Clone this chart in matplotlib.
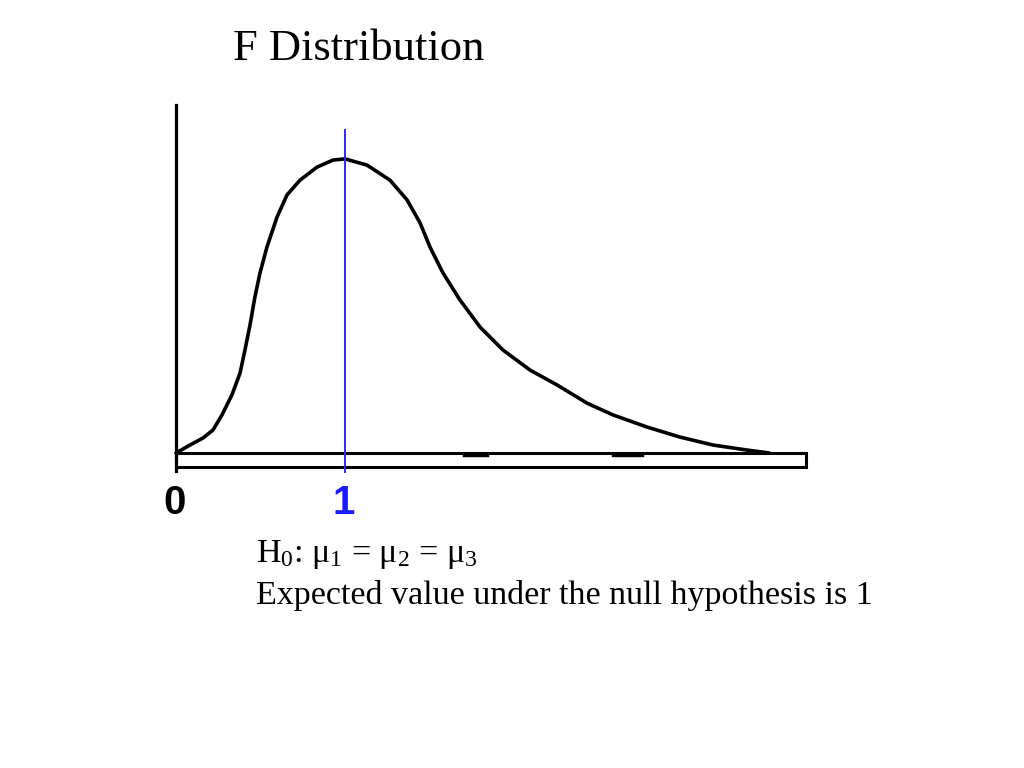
import numpy as np
import matplotlib
matplotlib.use("Agg")
import matplotlib.pyplot as plt
from matplotlib.patches import Rectangle

plt.rcParams['mathtext.fontset'] = 'custom'
plt.rcParams['mathtext.rm'] = 'Liberation Serif'
plt.rcParams['mathtext.it'] = 'Liberation Serif:italic'

# hand-drawn F density (x in F units, height relative to peak)
curve_x = [0.0, 0.083, 0.160, 0.219, 0.272, 0.331, 0.379, 0.408, 0.438, 0.467,
           0.497, 0.538, 0.598, 0.657, 0.734, 0.834, 0.929, 1.0, 1.130, 1.266,
           1.367, 1.444, 1.503, 1.580, 1.680, 1.799, 1.935, 2.095, 2.254, 2.432,
           2.586, 2.787, 2.982, 3.178, 3.379, 3.51]
curve_y = [0.0, 0.027, 0.051, 0.078, 0.129, 0.197, 0.271, 0.349, 0.434, 0.529,
           0.610, 0.698, 0.800, 0.875, 0.925, 0.969, 0.993, 0.997, 0.976, 0.925,
           0.858, 0.780, 0.698, 0.610, 0.519, 0.427, 0.349, 0.281, 0.231, 0.169,
           0.129, 0.088, 0.054, 0.027, 0.010, 0.0]

mean_x = 1.0
axis_end = 3.73
tick_pos = [0, 1]
tick_text = ["0", "1"]
tick_col = ["black", "#1a1aff"]

title = "F Distribution"
hyp_line = "H$_0$: μ$_1$ = μ$_2$ = μ$_3$"
note_line = "Expected value under the null hypothesis is 1"

fig = plt.figure(figsize=(10.24, 7.68), dpi=100)
ax = fig.add_axes([0, 0, 1, 1])
# 169 px per F unit, 295 px per unit of height, origin at pixel (176, 453)
ax.set_xlim(-176 / 169, (1024 - 176) / 169)
ax.set_ylim((453 - 768) / 295, 453 / 295)
ax.axis('off')

ax.plot(curve_x, curve_y, color='black', lw=2.6, solid_capstyle='round',
        solid_joinstyle='round', zorder=3)

# x axis drawn as a thin open bar
ax.add_patch(Rectangle((0, -0.047), axis_end, 0.047, fill=False,
                       edgecolor='black', lw=2.2, zorder=2))
ax.plot([1.71, 1.84], [-0.006, -0.006], color='black', lw=3.2, zorder=2)
ax.plot([2.59, 2.76], [-0.006, -0.006], color='black', lw=3.2, zorder=2)

# y axis
ax.plot([0, 0], [-0.06, 1.18], color='black', lw=2.3, zorder=2)

# mean line
ax.plot([mean_x, mean_x], [-0.066, 1.095], color='#2a2aff', lw=1.4, zorder=4)

for p, t, c in zip(tick_pos, tick_text, tick_col):
    ax.text(p - 0.01, -0.207, t, ha='center', va='baseline', fontsize=29,
            fontweight='bold', family='Liberation Sans', color=c)

fig.text(359 / 1024, 1 - 60 / 768, title, ha='center', va='baseline',
         fontsize=32, family='Liberation Serif')
fig.text(256 / 1024, 1 - 562 / 768, hyp_line, ha='left', va='baseline',
         fontsize=24.5, family='Liberation Serif')
fig.text(256 / 1024, 1 - 604 / 768, note_line, ha='left', va='baseline',
         fontsize=24.5, family='Liberation Serif')

fig.savefig('out.png', dpi=100)
